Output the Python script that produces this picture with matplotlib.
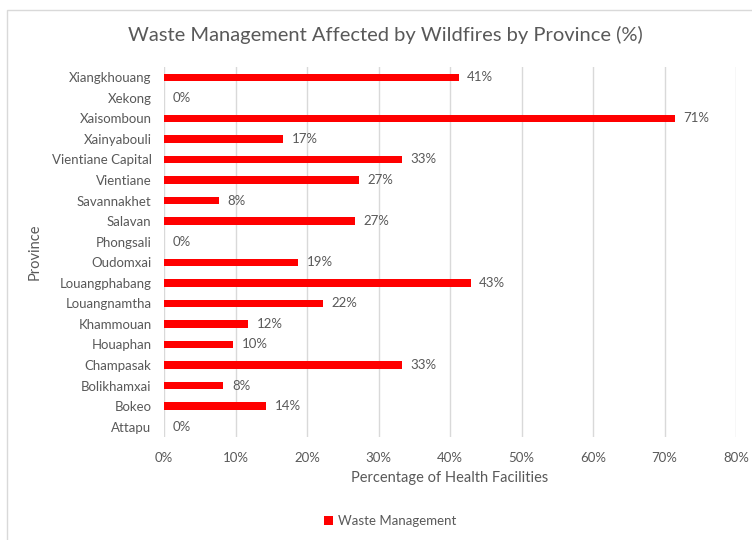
import matplotlib.pyplot as plt
from matplotlib.patches import Rectangle

# data, top to bottom as shown in the chart
provinces = ["Xiangkhouang", "Xekong", "Xaisomboun", "Xainyabouli", "Vientiane Capital",
             "Vientiane", "Savannakhet", "Salavan", "Phongsali", "Oudomxai",
             "Louangphabang", "Louangnamtha", "Khammouan", "Houaphan", "Champasak",
             "Bolikhamxai", "Bokeo", "Attapu"]
waste_pct = [41.2, 0, 71.4, 16.7, 33.3, 27.3, 7.7, 26.7, 0, 18.8,
             42.9, 22.2, 11.8, 9.7, 33.3, 8.3, 14.3, 0]
x_ticks = [0, 10, 20, 30, 40, 50, 60, 70, 80]

TEXT_GREY = "#595959"
GRID_GREY = "#d9d9d9"
BAR_RED = "#ff0000"

plt.rcParams['font.family'] = ['Lato', 'DejaVu Sans']

fig = plt.figure(figsize=(7.52, 5.4), dpi=100)
# light frame of the chart area
fig.patches.append(Rectangle((7 / 752, -0.1), 1.2, (540 - 10) / 540 + 0.1,
                             transform=fig.transFigure, fill=False,
                             edgecolor=GRID_GREY, linewidth=1.0))

ax = fig.add_axes([164 / 752, 1 - 437 / 540, (736 - 164) / 752, (437 - 67) / 540])

y_pos = list(range(len(provinces)))
ax.barh(y_pos, waste_pct, height=0.36, color=BAR_RED, label="Waste Management", zorder=3)

for y, v in zip(y_pos, waste_pct):
    ax.text(v + 1.2, y, f"{round(v):.0f}%", va="center", ha="left",
            fontsize=9.5, color=TEXT_GREY)

ax.set_ylim(len(provinces) - 0.5, -0.5)
ax.set_yticks(y_pos)
ax.set_yticklabels(provinces, fontsize=9.5, color=TEXT_GREY)
ax.set_xlim(0, 80)
ax.set_xticks(x_ticks)
ax.set_xticklabels([f"{t}%" for t in x_ticks], fontsize=9.5, color=TEXT_GREY)
ax.tick_params(axis="y", length=0, pad=9)
ax.tick_params(axis="x", length=0, pad=11)

ax.grid(axis="x", color=GRID_GREY, linewidth=1.0, zorder=0)
for s in ax.spines.values():
    s.set_visible(False)

ax.set_xlabel("Percentage of Health Facilities", fontsize=10.5, color=TEXT_GREY, labelpad=5)
ax.set_ylabel("Province", fontsize=10.5, color=TEXT_GREY, labelpad=7)

fig.text(385 / 752, 1 - 35 / 540, "Waste Management Affected by Wildfires by Province (%)",
         ha="center", va="center", fontsize=14.5, color=TEXT_GREY)

fig.legend(loc="center", bbox_to_anchor=(390 / 752, 1 - 521 / 540), frameon=False,
           fontsize=9.5, labelcolor=TEXT_GREY, handlelength=0.7, handleheight=0.7,
           handletextpad=0.4)

fig.savefig("out.png", dpi=100)
